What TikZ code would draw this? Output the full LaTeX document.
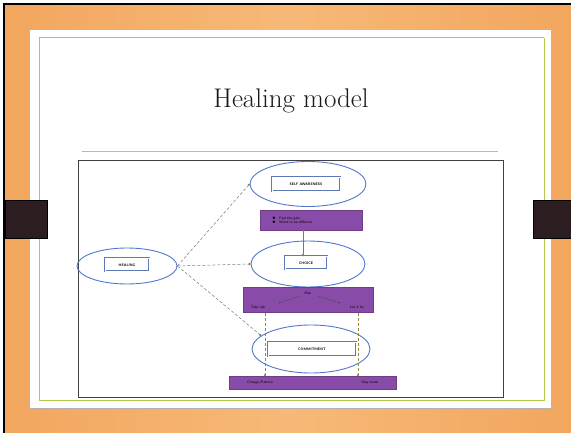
\documentclass[tikz,border=0pt]{standalone}
\usetikzlibrary{shapes.geometric,arrows.meta}
\definecolor{frameorange}{RGB}{242,166,94}
\definecolor{framelight}{RGB}{247,185,120}
\definecolor{slidegreen}{RGB}{176,200,70}
\definecolor{tabdark}{RGB}{44,30,32}
\definecolor{ellblue}{RGB}{80,120,205}
\definecolor{boxpurple}{RGB}{136,76,168}
\definecolor{linegray}{RGB}{120,120,120}
\tikzset{
  x=1pt, y=-1pt,
  ell/.style={draw=ellblue, line width=0.9pt, ellipse, inner sep=0pt},
  lbl/.style={draw=ellblue!70!gray, line width=0.7pt, double=white, double distance=0.6pt, fill=white, inner sep=0pt, font=\fontsize{3.6}{4}\selectfont\sffamily\bfseries},
  pbox/.style={fill=boxpurple, draw=boxpurple!80!black, line width=0.4pt, inner sep=0pt},
  ptext/.style={font=\fontsize{3.6}{4}\selectfont\sffamily, text=black, inner sep=0pt},
  conn/.style={draw=linegray, line width=0.5pt, densely dashed, -{Circle[length=2.2pt]}},
  tab/.style={fill=tabdark, draw=black, line width=0.6pt},
}
\begin{document}
\begin{tikzpicture}
\useasboundingbox (0,0) rectangle (571,433);
% frame
\shade[left color=frameorange, right color=frameorange, middle color=framelight, shading angle=90] (4,4) rectangle (571,433);
\fill[white] (30,30) rectangle (551,408);
\draw[slidegreen, line width=1pt] (39,38) -- (544,38);
\draw[slidegreen, line width=0.8pt] (39,38) -- (39,400) -- (544,400) -- (544,38);
\draw[black, line width=2pt] (4,433) -- (4,4) -- (571,4);
\draw[gray!60, line width=0.8pt] (30,408) -- (551,408);
% tabs
\draw[tab] (5,200) rectangle (47,238);
\draw[tab] (533,200) rectangle (571,238);
% title
\node[font=\fontsize{27}{30}\selectfont, text=black!90] (title) at (291,101) {Healing model};
% diagram frame
\draw[slidegreen!50!gray!70, line width=0.8pt] (82,151) -- (498,151);
\draw[black!75, line width=0.8pt] (78,160) rectangle (503,397);
% ellipses
\node[ell, minimum width=100, minimum height=36] (heal) at (127,266) {};
\node[lbl, minimum width=44, minimum height=13] (healt) at (127,265) {HEALING};
\node[ell, minimum width=116, minimum height=45] (self) at (308,184) {};
\node[lbl, minimum width=68, minimum height=14] (selft) at (306,184) {SELF AWARENESS};
\node[pbox, minimum width=102, minimum height=20] (p1) at (311,220) {};
\node[ptext, align=left, anchor=west] (p1t) at (272,220) {$\bullet$\quad Feel the pain\\[0.4pt]$\bullet$\quad Want to be different};
\node[ell, minimum width=114, minimum height=46] (choice) at (308,264) {};
\node[lbl, minimum width=42, minimum height=13] (choicet) at (306,263) {CHOICE};
\node[pbox, minimum width=130, minimum height=25] (p2) at (308,300) {};
\node[ptext] (risk) at (308,293) {Risk};
\node[ptext] (take) at (258,307) {Take risk};
\node[ptext] (let) at (357,307) {Let it be};
\node[ell, minimum width=118, minimum height=48] (conv) at (311,349) {};
\node[lbl, minimum width=88, minimum height=14] (convt) at (312,349) {COMMITMENT};
\node[pbox, minimum width=167, minimum height=13] (p3) at (313,383) {};
\node[ptext] (change) at (260,383) {Change/Pattern};
\node[ptext] (stay) at (370,383) {Stay stuck};
% connectors
\draw[conn] (heal.east) -- (self.west);
\draw[conn] (heal.east) -- (choice.west);
\draw[conn] (heal.east) -- (conv.165);
\draw[draw=linegray, line width=0.5pt, -{Circle[length=2.2pt]}] (p1.south) ++(-8,0) coordinate (p1s) (p1s) -- (p1s |- choicet.north);
\coordinate (rl) at (300,296);
\coordinate (rr) at (318,296);
\coordinate (tl) at (279,303);
\coordinate (tr) at (340,303);
\draw[draw=black!70, line width=0.4pt, -{Circle[length=1.6pt]}] (rl) -- (tl);
\draw[draw=black!70, line width=0.4pt, -{Circle[length=1.6pt]}] (rr) -- (tr);
\coordinate (dl) at (265,313);
\coordinate (dr) at (358,313);
\draw[conn, draw=olive!60!gray] (dl) -- (dl |- p3.north);
\draw[conn, draw=olive!60!gray] (dr) -- (dr |- p3.north);
\end{tikzpicture}
\end{document}
